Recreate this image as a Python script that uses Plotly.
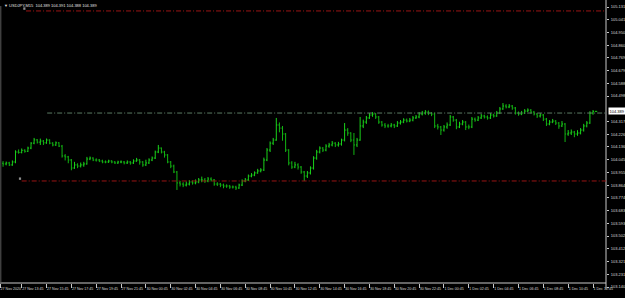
import plotly.graph_objects as go

# ---------------- data (USDJPY, M15) ----------------
opens = [
    104.020, 104.015, 104.022, 104.008, 104.029, 104.100, 104.097, 104.112, 104.105, 104.128,
    104.163, 104.186, 104.170, 104.178, 104.165, 104.185, 104.163, 104.150, 104.165, 104.142,
    104.072, 104.065, 104.043, 103.986, 104.008, 104.000, 104.008, 104.015, 104.050, 104.057,
    104.043, 104.043, 104.036, 104.029, 104.029, 104.036, 104.029, 104.022, 104.029, 104.029,
    104.022, 104.029, 104.022, 104.036, 104.043, 104.029, 104.008, 104.022, 104.043, 104.057,
    104.100, 104.128, 104.100, 104.079, 104.029, 104.000, 103.958, 103.880, 103.872, 103.865,
    103.872, 103.887, 103.880, 103.887, 103.901, 103.901, 103.894, 103.908, 103.901, 103.872,
    103.872, 103.865, 103.858, 103.858, 103.851, 103.851, 103.844, 103.865, 103.894, 103.901,
    103.929, 103.936, 103.951, 103.965, 103.972, 104.043, 104.114, 104.163, 104.185, 104.292,
    104.270, 104.228, 104.114, 104.022, 103.993, 104.008, 103.993, 103.958, 103.929, 103.951,
    103.986, 104.057, 104.100, 104.128, 104.114, 104.142, 104.150, 104.163, 104.150, 104.157,
    104.185, 104.256, 104.235, 104.185, 104.150, 104.185, 104.285, 104.313, 104.342, 104.363,
    104.370, 104.349, 104.313, 104.292, 104.285, 104.285, 104.292, 104.285, 104.306, 104.313,
    104.327, 104.320, 104.327, 104.342, 104.349, 104.370, 104.377, 104.384, 104.377, 104.370,
    104.285, 104.278, 104.256, 104.278, 104.292, 104.349, 104.327, 104.278, 104.299, 104.313,
    104.278, 104.278, 104.334, 104.327, 104.342, 104.356, 104.349, 104.342, 104.363, 104.356,
    104.377, 104.406, 104.427, 104.420, 104.427, 104.413, 104.377, 104.370, 104.377, 104.391,
    104.398, 104.384, 104.370, 104.356, 104.363, 104.334, 104.299, 104.313, 104.320, 104.306,
    104.285, 104.299, 104.228, 104.235, 104.242, 104.228, 104.235, 104.256, 104.285, 104.306,
    104.377, 104.389,
]
highs = [
    104.035, 104.032, 104.030, 104.040, 104.112, 104.118, 104.125, 104.120, 104.138, 104.170,
    104.200, 104.192, 104.195, 104.185, 104.196, 104.190, 104.170, 104.175, 104.170, 104.150,
    104.085, 104.072, 104.050, 104.030, 104.020, 104.025, 104.030, 104.065, 104.068, 104.062,
    104.055, 104.050, 104.045, 104.040, 104.045, 104.042, 104.036, 104.038, 104.040, 104.036,
    104.040, 104.035, 104.048, 104.058, 104.050, 104.035, 104.045, 104.055, 104.068, 104.110,
    104.150, 104.132, 104.108, 104.085, 104.036, 104.010, 103.965, 103.895, 103.885, 103.890,
    103.900, 103.898, 103.905, 103.915, 103.925, 103.915, 103.922, 103.920, 103.908, 103.885,
    103.880, 103.875, 103.870, 103.866, 103.862, 103.860, 103.875, 103.905, 103.915, 103.940,
    103.950, 103.962, 103.980, 103.985, 104.060, 104.128, 104.175, 104.200, 104.342, 104.310,
    104.285, 104.235, 104.120, 104.035, 104.030, 104.020, 104.000, 103.965, 103.965, 103.998,
    104.070, 104.115, 104.140, 104.135, 104.155, 104.165, 104.178, 104.170, 104.172, 104.195,
    104.306, 104.270, 104.240, 104.235, 104.200, 104.349, 104.330, 104.356, 104.377, 104.384,
    104.377, 104.356, 104.320, 104.306, 104.300, 104.306, 104.300, 104.320, 104.327, 104.340,
    104.338, 104.342, 104.356, 104.363, 104.384, 104.392, 104.398, 104.395, 104.384, 104.380,
    104.300, 104.285, 104.292, 104.310, 104.363, 104.356, 104.335, 104.315, 104.327, 104.320,
    104.295, 104.349, 104.345, 104.356, 104.370, 104.365, 104.360, 104.377, 104.372, 104.392,
    104.420, 104.448, 104.440, 104.441, 104.434, 104.420, 104.388, 104.392, 104.405, 104.410,
    104.405, 104.392, 104.377, 104.377, 104.370, 104.342, 104.327, 104.335, 104.327, 104.313,
    104.320, 104.306, 104.256, 104.260, 104.250, 104.255, 104.270, 104.300, 104.320, 104.390,
    104.398, 104.391,
]
lows = [
    103.995, 104.005, 104.000, 104.002, 104.020, 104.088, 104.090, 104.095, 104.100, 104.120,
    104.155, 104.160, 104.150, 104.150, 104.158, 104.155, 104.140, 104.143, 104.135, 104.060,
    104.040, 104.020, 103.970, 103.980, 103.985, 103.990, 103.995, 104.010, 104.042, 104.035,
    104.032, 104.028, 104.020, 104.020, 104.022, 104.020, 104.015, 104.015, 104.020, 104.012,
    104.015, 104.010, 104.015, 104.030, 104.010, 103.995, 104.000, 104.015, 104.035, 104.050,
    104.092, 104.090, 104.060, 104.020, 103.985, 103.950, 103.830, 103.855, 103.850, 103.855,
    103.862, 103.868, 103.870, 103.878, 103.885, 103.880, 103.885, 103.890, 103.860, 103.858,
    103.850, 103.842, 103.845, 103.838, 103.840, 103.830, 103.838, 103.858, 103.885, 103.895,
    103.920, 103.928, 103.945, 103.955, 103.965, 104.035, 104.100, 104.150, 104.180, 104.240,
    104.180, 104.100, 104.005, 103.980, 103.985, 103.975, 103.945, 103.894, 103.915, 103.940,
    103.975, 104.045, 104.090, 104.100, 104.105, 104.130, 104.140, 104.135, 104.138, 104.145,
    104.175, 104.215, 104.170, 104.079, 104.135, 104.180, 104.270, 104.300, 104.335, 104.350,
    104.335, 104.300, 104.280, 104.270, 104.272, 104.275, 104.270, 104.278, 104.295, 104.305,
    104.310, 104.312, 104.318, 104.335, 104.340, 104.360, 104.365, 104.362, 104.355, 104.270,
    104.260, 104.221, 104.245, 104.265, 104.285, 104.315, 104.262, 104.270, 104.290, 104.256,
    104.262, 104.270, 104.315, 104.320, 104.335, 104.338, 104.330, 104.335, 104.345, 104.350,
    104.370, 104.400, 104.410, 104.412, 104.400, 104.366, 104.358, 104.362, 104.370, 104.384,
    104.372, 104.360, 104.342, 104.345, 104.320, 104.285, 104.290, 104.305, 104.292, 104.265,
    104.278, 104.171, 104.215, 104.221, 104.205, 104.215, 104.225, 104.245, 104.275, 104.300,
    104.365, 104.388,
]
closes = [
    104.015, 104.022, 104.008, 104.029, 104.100, 104.097, 104.112, 104.105, 104.128, 104.163,
    104.186, 104.170, 104.178, 104.165, 104.185, 104.163, 104.150, 104.165, 104.142, 104.072,
    104.065, 104.043, 103.986, 104.008, 104.000, 104.008, 104.015, 104.050, 104.057, 104.043,
    104.043, 104.036, 104.029, 104.029, 104.036, 104.029, 104.022, 104.029, 104.029, 104.022,
    104.029, 104.022, 104.036, 104.043, 104.029, 104.008, 104.022, 104.043, 104.057, 104.100,
    104.128, 104.100, 104.079, 104.029, 104.000, 103.958, 103.880, 103.872, 103.865, 103.872,
    103.887, 103.880, 103.887, 103.901, 103.901, 103.894, 103.908, 103.901, 103.872, 103.872,
    103.865, 103.858, 103.858, 103.851, 103.851, 103.844, 103.865, 103.894, 103.901, 103.929,
    103.936, 103.951, 103.965, 103.972, 104.043, 104.114, 104.163, 104.185, 104.292, 104.270,
    104.228, 104.114, 104.022, 103.993, 104.008, 103.993, 103.958, 103.929, 103.951, 103.986,
    104.057, 104.100, 104.128, 104.114, 104.142, 104.150, 104.163, 104.150, 104.157, 104.185,
    104.256, 104.235, 104.185, 104.150, 104.185, 104.285, 104.313, 104.342, 104.363, 104.370,
    104.349, 104.313, 104.292, 104.285, 104.285, 104.292, 104.285, 104.306, 104.313, 104.327,
    104.320, 104.327, 104.342, 104.349, 104.370, 104.377, 104.384, 104.377, 104.370, 104.285,
    104.278, 104.256, 104.278, 104.292, 104.349, 104.327, 104.278, 104.299, 104.313, 104.278,
    104.278, 104.334, 104.327, 104.342, 104.356, 104.349, 104.342, 104.363, 104.356, 104.377,
    104.406, 104.427, 104.420, 104.427, 104.413, 104.377, 104.370, 104.377, 104.391, 104.398,
    104.384, 104.370, 104.356, 104.363, 104.334, 104.299, 104.313, 104.320, 104.306, 104.285,
    104.299, 104.228, 104.235, 104.242, 104.228, 104.235, 104.256, 104.285, 104.306, 104.377,
    104.389, 104.389,
]

price_labels = [
    "103.140", "103.231", "103.321", "103.412", "103.502", "103.593", "103.683",
    "103.774", "103.864", "103.955", "104.045", "104.136", "104.226", "104.317",
    "104.498", "104.588", "104.679", "104.769", "104.860", "104.950",
    "105.041", "105.131",
]
time_labels = [
    "27 Nov 2020", "27 Nov 13:45", "27 Nov 15:45", "27 Nov 17:45", "27 Nov 19:45",
    "27 Nov 21:45", "30 Nov 00:45", "30 Nov 02:45", "30 Nov 04:45", "30 Nov 06:45",
    "30 Nov 08:45", "30 Nov 10:45", "30 Nov 12:45", "30 Nov 14:45", "30 Nov 16:45",
    "30 Nov 18:45", "30 Nov 20:45", "30 Nov 22:45", "1 Dec 00:45", "1 Dec 02:45",
    "1 Dec 04:45", "1 Dec 06:45", "1 Dec 08:45", "1 Dec 10:45", "1 Dec 12:45",
]
time_label_bars = [-0.95] + [6 + 8 * k for k in range(24)]

symbol = "USDJPY,M15"
last_price = 104.389
header = "\u25bc " + symbol + "  104.389 104.391 104.388 104.389"

grey_level = 104.377       # dashed horizontal line
red_levels = [103.894, 105.103]
red_starts = [6.0, 7.4]
grey_start = 14.2

# ---------------- figure ----------------
W, H = 625, 298
FONT = "Liberation Sans"
AX_X = 606 / W
AX_Y = 15 / H
X_END = 194.2

bars = list(range(len(closes)))

fig = go.Figure()
fig.add_trace(go.Ohlc(
    x=bars, open=opens, high=highs, low=lows, close=closes,
    increasing=dict(line=dict(color="#1ad21a", width=1)),
    decreasing=dict(line=dict(color="#12b412", width=1)),
    tickwidth=0.35, showlegend=False, hoverinfo="skip",
))

shapes = []
# axis frame
shapes.append(dict(type="line", xref="paper", yref="paper", x0=AX_X, x1=AX_X, y0=AX_Y - 0.02, y1=1,
                   line=dict(color="#c8c8c8", width=1)))
shapes.append(dict(type="line", xref="paper", yref="paper", x0=0, x1=AX_X, y0=AX_Y, y1=AX_Y,
                   line=dict(color="#c8c8c8", width=1)))
shapes.append(dict(type="line", xref="paper", yref="paper", x0=0.8 / W, x1=0.8 / W, y0=AX_Y, y1=1 - 6 / H,
                   line=dict(color="#5a5a5a", width=1)))
# horizontal level lines
shapes.append(dict(type="line", xref="x", yref="y", x0=grey_start, x1=X_END, y0=grey_level, y1=grey_level,
                   line=dict(color="#5b7a64", width=1, dash="5px,2px,1px,2px")))
for lvl, st in zip(red_levels, red_starts):
    shapes.append(dict(type="line", xref="x", yref="y", x0=st, x1=X_END, y0=lvl, y1=lvl,
                       line=dict(color="#9a1414", width=1, dash="5px,2px,1px,2px")))
    shapes.append(dict(type="rect", xref="x", yref="y", x0=st - 0.9, x1=st - 0.2,
                       y0=lvl + 0.008, y1=lvl + 0.025, line=dict(width=0), fillcolor="#8c8c8c"))

fig.update_layout(
    width=W, height=H,
    margin=dict(l=0, r=0, t=0, b=0),
    paper_bgcolor="black", plot_bgcolor="black",
    showlegend=False,
    shapes=shapes,
    xaxis=dict(
        domain=[0, 1], range=[-0.989, 200.3], anchor="free", position=AX_Y,
        rangeslider=dict(visible=False), showgrid=False, zeroline=False, showline=False,
        tickmode="array", tickvals=time_label_bars, ticktext=time_labels,
        ticks="outside", ticklen=4, tickcolor="#c8c8c8", tickwidth=1, tickangle=0,
        ticklabelposition="outside right", ticklabelstandoff=2,
        tickfont=dict(family=FONT, size=3.6, color="#d8d8d8"),
    ),
    yaxis=dict(
        domain=[0, 1], range=[103.0618, 105.1808], anchor="free", position=AX_X, side="right",
        showgrid=False, zeroline=False, showline=False,
        tickmode="array", tickvals=[float(s) for s in price_labels], ticktext=price_labels,
        ticks="outside", ticklen=2, tickcolor="#c8c8c8", tickwidth=1, ticklabelstandoff=1,
        tickfont=dict(family=FONT, size=4, color="#d8d8d8"),
    ),
    annotations=[
        dict(xref="paper", yref="paper", x=2 / W, y=1 - 1.5 / H, xanchor="left", yanchor="top",
             text=header, showarrow=False, font=dict(family=FONT, size=4, color="#e0e0e0")),
        dict(xref="paper", yref="y", x=608 / W, y=last_price, xanchor="left", yanchor="middle",
             text=f"{last_price:.3f}", showarrow=False, bgcolor="#ffffff", borderpad=0.5,
             font=dict(family=FONT, size=4, color="#000000")),
    ],
)

fig.write_html("out.html")
